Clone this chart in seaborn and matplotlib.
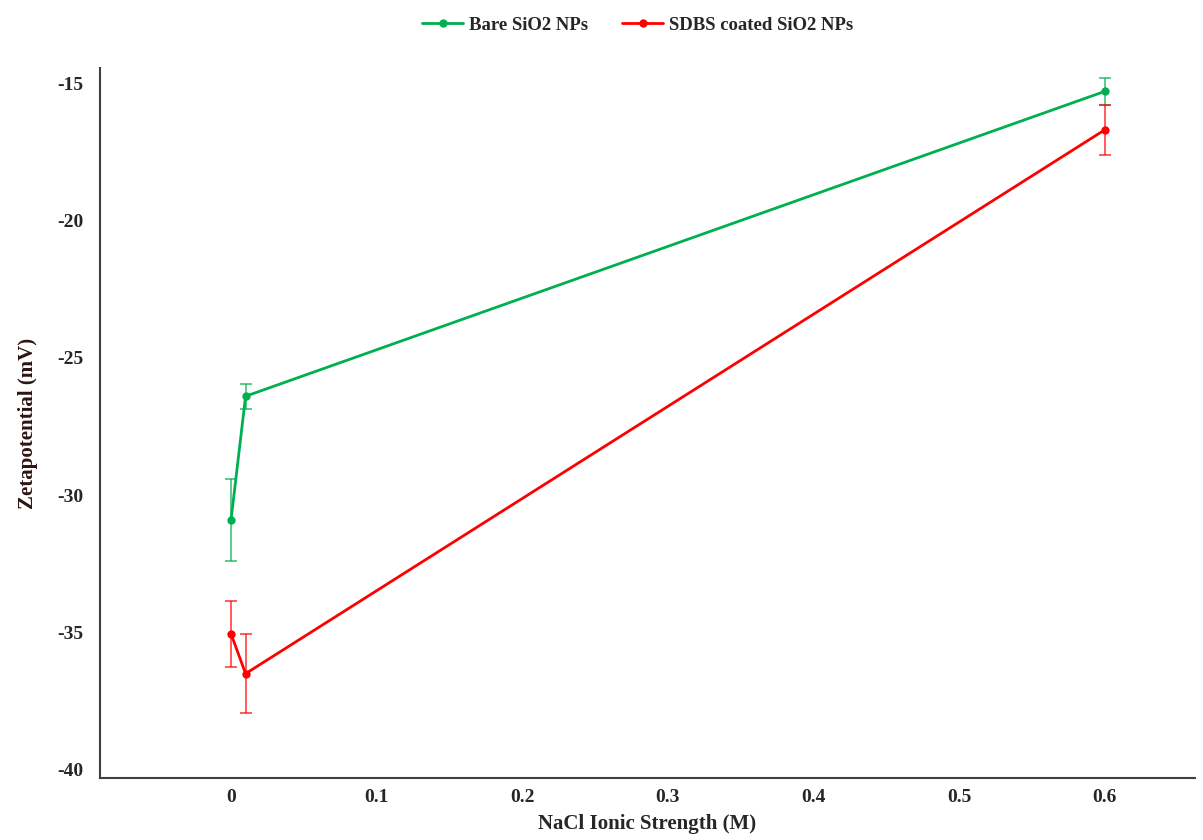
import matplotlib
matplotlib.use("Agg")
import matplotlib.pyplot as plt
import seaborn as sns
import pandas as pd

# Data
nacl = [0.0, 0.01, 0.6]
bare_zeta = [-30.9, -26.4, -15.3]
bare_err = [1.5, 0.45, 0.5]
sdbs_zeta = [-35.05, -36.5, -16.7]
sdbs_err = [1.2, 1.45, 0.9]
series_names = ["Bare SiO2 NPs", "SDBS coated SiO2 NPs"]
colors = ["#00B050", "#FF0000"]
x_ticks = [0, 0.1, 0.2, 0.3, 0.4, 0.5, 0.6]
y_ticks = [-40, -35, -30, -25, -20, -15]

sns.set_theme(style="white")
plt.rcParams['font.family'] = ['Liberation Serif', 'DejaVu Serif']
plt.rcParams['font.weight'] = 'bold'
plt.rcParams['axes.unicode_minus'] = False

df = pd.DataFrame({
    "x": nacl + nacl,
    "y": bare_zeta + sdbs_zeta,
    "series": [series_names[0]] * 3 + [series_names[1]] * 3,
})

fig = plt.figure(figsize=(12.03, 8.4), dpi=100)
ax = fig.add_axes([0.0831, 0.0738, 0.9103, 0.8452])

sns.lineplot(data=df, x="x", y="y", hue="series", palette=colors, marker="o",
             markersize=6, markeredgewidth=0, linewidth=2, ax=ax, sort=False)

for yv, ev, c in [(bare_zeta, bare_err, colors[0]), (sdbs_zeta, sdbs_err, colors[1])]:
    ax.errorbar(nacl, yv, yerr=ev, fmt="none", ecolor=c, elinewidth=1.2,
                capsize=4, capthick=1.2, alpha=0.75)

ax.set_xlim(-0.09, 0.662)
ax.set_ylim(-40.3, -14.45)
ax.set_xticks(x_ticks)
ax.set_xticklabels(["0", "0.1", "0.2", "0.3", "0.4", "0.5", "0.6"])
ax.set_yticks(y_ticks)
ax.set_yticklabels([str(v) for v in y_ticks])
ax.tick_params(axis="x", length=0, labelsize=14, pad=8)
ax.tick_params(axis="y", length=0, labelsize=14, pad=12)
for lab in ax.get_xticklabels() + ax.get_yticklabels():
    lab.set_fontweight("bold")

for s in ["top", "right"]:
    ax.spines[s].set_visible(False)
for s in ["left", "bottom"]:
    ax.spines[s].set_color("#404040")
    ax.spines[s].set_linewidth(1.5)

ax.set_xlabel("NaCl Ionic Strength (M)", fontsize=15, fontweight="bold", labelpad=6)
ax.set_ylabel("Zetapotential (mV)", fontsize=15, fontweight="bold", color="#2E1414", labelpad=14)

handles, labels = ax.get_legend_handles_labels()
ax.legend_.remove()
fig.legend(handles, labels, loc="upper center", bbox_to_anchor=(0.53, 1.0), ncol=2,
           frameon=False, prop={"size": 13.5, "weight": "bold"}, handlelength=2.2,
           columnspacing=1.8, handletextpad=0.3)

fig.savefig("out.png", dpi=100)
